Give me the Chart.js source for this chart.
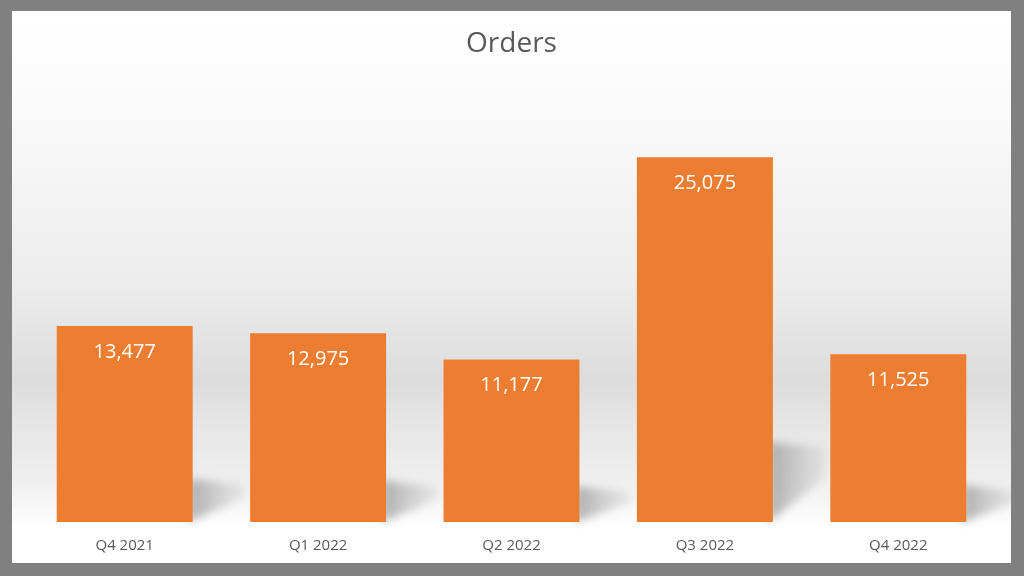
<!DOCTYPE html>
<html>
<head>
<meta charset="utf-8">
<script src="https://cdn.jsdelivr.net/npm/chart.js@4/dist/chart.umd.min.js"></script>
<style>
  html, body { margin: 0; padding: 0; background: #808080; }
  #frame { position: absolute; left: 12px; top: 11px; width: 999px; height: 552px; background: #fff; overflow: hidden; }
  canvas { display: block; }
</style>
</head>
<body>
<div id="frame"><canvas id="orders-chart" width="999" height="559"></canvas></div>
<script>
const quarters = ['Q4 2021', 'Q1 2022', 'Q2 2022', 'Q3 2022', 'Q4 2022'];
const orders = [13477, 12975, 11177, 25075, 11525];

const fmt = new Intl.NumberFormat('en-US');

// soft grey backdrop with a darker band in the lower half
const backdrop = {
    id: 'backdrop',
    beforeDraw(chart) {
        const { ctx, width } = chart;
        const height = 552;
        const g = ctx.createLinearGradient(0, 0, 0, height);
        g.addColorStop(0, '#ffffff');
        g.addColorStop(0.16, '#fbfbfb');
        g.addColorStop(0.5, '#ececec');
        g.addColorStop(0.67, '#dcdcdc');
        g.addColorStop(0.76, '#e7e7e7');
        g.addColorStop(0.85, '#efefef');
        g.addColorStop(0.94, '#ffffff');
        g.addColorStop(1, '#ffffff');
        ctx.save();
        ctx.fillStyle = g;
        ctx.fillRect(0, 0, width, chart.height);
        ctx.restore();
    }
};

// slanted shadows behind each bar
const barShadows = {
    id: 'barShadows',
    beforeDatasetsDraw(chart) {
        const { ctx } = chart;
        const meta = chart.getDatasetMeta(0);
        ctx.save();
        ctx.filter = 'blur(4px)';
        meta.data.forEach(bar => {
            const xR = bar.x + bar.width / 2;
            const bottom = bar.base;
            const h = (bottom - bar.y) * 0.22;
            const w = 52;
            const g = ctx.createLinearGradient(xR, 0, xR + w, 0);
            g.addColorStop(0, 'rgba(150,150,150,0.7)');
            g.addColorStop(1, 'rgba(180,180,180,0.2)');
            ctx.fillStyle = g;
            ctx.beginPath();
            ctx.moveTo(xR - 4, bottom);
            ctx.lineTo(xR - 4, bottom - h);
            ctx.lineTo(xR + w, bottom - h + 6);
            ctx.lineTo(xR + w, bottom - h * 0.55);
            ctx.closePath();
            ctx.fill();
        });
        ctx.restore();
    }
};

// value labels just inside the top of each bar
const insideLabels = {
    id: 'insideLabels',
    afterDatasetsDraw(chart) {
        const { ctx } = chart;
        const meta = chart.getDatasetMeta(0);
        ctx.save();
        ctx.font = '20px "Open Sans"';
        ctx.fillStyle = '#ffffff';
        ctx.textAlign = 'center';
        ctx.textBaseline = 'middle';
        meta.data.forEach((bar, i) => {
            ctx.fillText(fmt.format(orders[i]), bar.x, bar.y + 26);
        });
        ctx.restore();
    }
};

new Chart(document.getElementById('orders-chart'), {
    type: 'bar',
    data: {
        labels: quarters,
        datasets: [{
            label: 'Orders',
            data: orders,
            backgroundColor: '#ED7D31',
            categoryPercentage: 1,
            barPercentage: 0.703,
        }]
    },
    options: {
        responsive: false,
        animation: false,
        layout: { padding: { left: 16, right: 16, bottom: 0 } },
        plugins: {
            legend: { display: false },
            tooltip: { enabled: false },
            title: {
                display: true,
                text: 'Orders',
                color: '#595959',
                font: { family: 'Open Sans', size: 28, weight: 'normal' },
                padding: { top: 16, bottom: 25 }
            }
        },
        scales: {
            x: {
                grid: { display: false, drawTicks: false },
                border: { display: false },
                ticks: { color: '#595959', font: { family: 'Open Sans', size: 15 }, padding: 15 }
            },
            y: { display: false, min: 0, max: 30000 }
        }
    },
    plugins: [backdrop, barShadows, insideLabels]
});
</script>
</body>
</html>
